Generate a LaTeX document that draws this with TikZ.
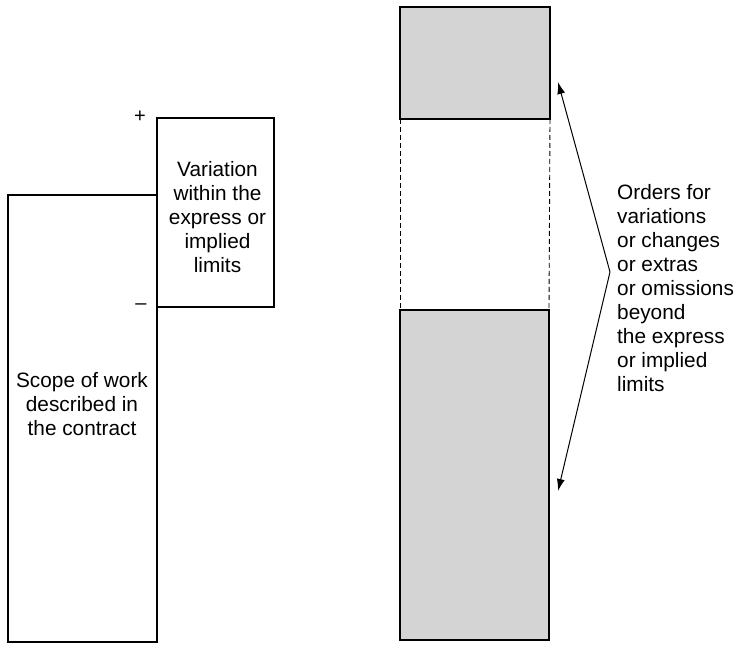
\documentclass[tikz,border=0pt]{standalone}
\usepackage{fontspec}
\setmainfont{Liberation Sans}
\usetikzlibrary{arrows.meta}
\tikzset{/VAR/S/box/.style={
	draw, line width=1.4pt, inner sep=0, outer sep=0
}}
\tikzset{/VAR/S/shaded/.style={
	/VAR/S/box, fill=black!17
}}
\tikzset{/VAR/S/txt/.style={
	font=\fontsize{20.8}{24}\selectfont, align=center, inner sep=0
}}
\tikzset{/VAR/S/sign/.style={
	font=\fontsize{20}{20}\selectfont, inner sep=0
}}
\tikzset{/VAR/S/arrow/.style={
	line width=1pt, -{Latex[length=12pt,width=8pt]}
}}

\begin{document}
\begin{tikzpicture}[x=1pt, y=-1pt]
				\useasboundingbox (0,0) rectangle (739,647);
				% left: contract scope and permitted variation
				\path (8,195) node[/VAR/S/box, anchor=north west, minimum width=149pt, minimum height=447pt] (scope) {};
				\path (scope.north east) ++ (0,-77) node[/VAR/S/box, anchor=north west, minimum width=117pt, minimum height=189pt] (var) {};
				\path (82,404) node[/VAR/S/txt] (scopetxt) {Scope of work\\described in\\the contract};
				\path (var.center) ++ (2,5) node[/VAR/S/txt] (vartxt) {Variation\\within the\\express or\\implied\\limits};
				\path (var.north west) ++ (-17,-1) node[/VAR/S/sign] (plus) {+};
				\path (var.south west) ++ (-16,0) node[/VAR/S/sign] (minus) {--};
				% right: orders beyond the limits
				\path (400,7) node[/VAR/S/shaded, anchor=north west, minimum width=150pt, minimum height=112pt] (upper) {};
				\path (400,310) node[/VAR/S/shaded, anchor=north west, minimum width=149pt, minimum height=330pt] (lower) {};
				\draw[line width=0.9pt, dash pattern=on 5pt off 3pt] (upper.south west) -- (lower.north west);
				\draw[line width=0.9pt, dash pattern=on 5pt off 3pt] (upper.south east) -- (lower.north east);
				\path (617,288) node[/VAR/S/txt, align=left, anchor=west] (orders) {Orders for\\variations\\or changes\\or extras\\or omissions\\beyond\\the express\\or implied\\limits};
				\coordinate (apex) at (610,272);
				\coordinate (tipU) at (558,82);
				\coordinate (tipL) at (558,491);
				\draw[/VAR/S/arrow] (apex) -- (tipU);
				\draw[/VAR/S/arrow] (apex) -- (tipL);
			\end{tikzpicture}
\end{document}
